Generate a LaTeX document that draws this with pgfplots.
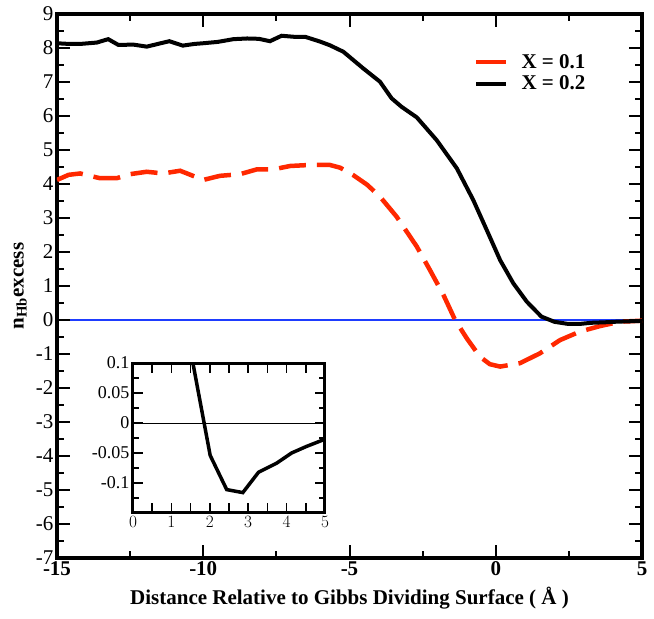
\documentclass[border=0pt]{standalone}
\usepackage{fontspec}
\setmainfont{Liberation Serif}
\usepackage{pgfplots}
\pgfplotsset{compat=1.18}
\definecolor{gred}{RGB}{255,40,0}
\definecolor{gblue}{RGB}{30,60,255}
\pgfplotsset{tk/.style={black, line width=2pt, forget plot, mark=none},
         tki/.style={black, line width=1.6pt, forget plot, mark=none}}
\begin{document}
\begin{tikzpicture}
\path[use as bounding box] (-57pt,-61pt) rectangle (597pt,558pt);
\begin{axis}[
  name=main,
  at={(0pt,0pt)}, anchor=south west,
  scale only axis, width=585pt, height=544pt,
  xmin=-15, xmax=5, ymin=-7, ymax=9,
  xtick={-15,-10,-5,0,5},
  ytick={-7,-6,...,9},
  major tick length=0pt, minor tick length=0pt,
  axis line style={line width=3.5pt},
  /pgf/number format/assume math mode=true,
  xticklabel style={font=\fontsize{21}{24}\selectfont\bfseries},
  yticklabel style={font=\fontsize{21}{24}\selectfont},
  xlabel={Distance Relative to Gibbs Dividing Surface ( Å )},
  xlabel style={font=\fontsize{21}{24}\selectfont\bfseries, at={(axis description cs:0.5,-0.053)}, anchor=north, inner sep=0pt},
  ylabel={n\textsubscript{Hb}excess},
  every axis y label/.style={font=\fontsize{21}{24}\selectfont\bfseries, at={(axis description cs:-0.0513,0.5)}, rotate=90, anchor=south, inner sep=0pt},
  legend style={draw=none, fill=none, at={(axis cs:-0.75,7.85)}, anchor=north west, inner sep=0pt,
    font=\fontsize{21}{24}\selectfont\bfseries, row sep=4pt, column sep=12pt,
    nodes={inner sep=1pt}},
  legend cell align=left,
  legend image code/.code={\draw[#1,solid] (0pt,0pt) -- (30pt,0pt);},
]
\addplot[gblue, line width=1.2pt, forget plot] coordinates {(-15,0) (5,0)};
\addplot[gred, line width=4.5pt, dash pattern=on 27pt off 11pt] coordinates {
(-15,4.12) (-14.6,4.27) (-14.21,4.31) (-13.53,4.17) (-12.96,4.17) (-12.5,4.29)
(-11.93,4.36) (-11.37,4.31) (-10.79,4.39) (-10.0,4.12) (-9.43,4.24) (-8.74,4.29)
(-8.17,4.43) (-7.6,4.43) (-7.03,4.53) (-6.35,4.56) (-5.67,4.56) (-5.32,4.48)
(-4.87,4.26) (-4.4,3.98) (-3.96,3.63) (-3.39,3.04) (-2.70,2.16) (-2.25,1.47)
(-1.79,0.74) (-1.39,0.0) (-0.99,-0.54) (-0.54,-1.08) (-0.2,-1.30) (0.15,-1.37)
(0.83,-1.27) (1.51,-0.98) (2.2,-0.59) (2.88,-0.34) (3.56,-0.18) (4.25,-0.05) (5.0,-0.02)};
\addlegendentry{X = 0.1}
\addplot[black, line width=4pt] coordinates {
(-15,8.14) (-14.6,8.12) (-14.2,8.12) (-13.64,8.16) (-13.25,8.26) (-12.9,8.09)
(-12.39,8.1) (-11.93,8.04) (-11.55,8.12) (-11.16,8.2) (-10.7,8.07) (-10.3,8.12)
(-10,8.14) (-9.5,8.18) (-8.97,8.26) (-8.5,8.28) (-8.1,8.27) (-7.72,8.2)
(-7.32,8.36) (-6.9,8.33) (-6.52,8.33) (-6.01,8.19) (-5.67,8.08) (-5.21,7.89)
(-4.53,7.4) (-3.96,7.01) (-3.56,6.52) (-3.22,6.27) (-2.70,5.96) (-2.02,5.29)
(-1.33,4.46) (-0.77,3.53) (-0.31,2.65) (0.15,1.76) (0.6,1.08) (1.06,0.54)
(1.56,0.1) (2.01,-0.054) (2.44,-0.111) (2.86,-0.116) (3.27,-0.082) (3.74,-0.067)
(4.13,-0.05) (4.52,-0.039) (5.0,-0.027)};
\addlegendentry{X = 0.2}
% inside tick marks
\pgfplotsinvokeforeach{-10,-5,0}{
  \addplot[tk] coordinates {(#1,-7) (#1,-6.62)};
  \addplot[tk] coordinates {(#1,9) (#1,8.62)};}
\pgfplotsinvokeforeach{-12.5,-7.5,-2.5,2.5}{
  \addplot[tk] coordinates {(#1,-7) (#1,-6.79)};
  \addplot[tk] coordinates {(#1,9) (#1,8.79)};}
\pgfplotsinvokeforeach{-6,-5,-4,-3,-2,-1,0,1,2,3,4,5,6,7,8}{
  \addplot[tk] coordinates {(-15,#1) (-14.56,#1)};
  \addplot[tk] coordinates {(5,#1) (4.56,#1)};}
\pgfplotsinvokeforeach{-6.5,-5.5,-4.5,-3.5,-2.5,-1.5,-0.5,0.5,1.5,2.5,3.5,4.5,5.5,6.5,7.5,8.5}{
  \addplot[tk] coordinates {(-15,#1) (-14.76,#1)};
  \addplot[tk] coordinates {(5,#1) (4.76,#1)};}
\end{axis}
\begin{axis}[
  at={(76pt,45pt)}, anchor=south west,
  scale only axis, width=192pt, height=150pt,
  xmin=0, xmax=5, ymin=-0.15, ymax=0.1,
  xtick={0,1,2,3,4,5},
  ytick={-0.1,-0.05,0,0.05,0.1},
  yticklabels={-0.1,-0.05,0,0.05,0.1},
  major tick length=0pt, minor tick length=0pt,
  axis line style={line width=3pt},
  xticklabel style={font=\fontsize{17}{20}\selectfont\bfseries},
  yticklabel style={font=\fontsize{18}{21}\selectfont},
  axis background/.style={fill=white},
]
\addplot[black, line width=0.8pt, forget plot] coordinates {(0,0) (5,0)};
\addplot[black, line width=3.5pt, forget plot] coordinates {
(1.06,0.54) (1.56,0.1) (2.01,-0.054) (2.44,-0.111) (2.86,-0.116) (3.27,-0.082) (3.74,-0.067)
(4.13,-0.05) (4.52,-0.039) (5.0,-0.027)};
\pgfplotsinvokeforeach{0.5,1,1.5,2,2.5,3,3.5,4,4.5}{
  \addplot[tki] coordinates {(#1,-0.15) (#1,-0.134)};
  \addplot[tki] coordinates {(#1,0.1) (#1,0.084)};}
\pgfplotsinvokeforeach{-0.1,-0.05,0,0.05}{
  \addplot[tki] coordinates {(0,#1) (0.26,#1)};
  \addplot[tki] coordinates {(5,#1) (4.74,#1)};}
\pgfplotsinvokeforeach{-0.125,-0.075,-0.025,0.025,0.075}{
  \addplot[tki] coordinates {(0,#1) (0.16,#1)};
  \addplot[tki] coordinates {(5,#1) (4.84,#1)};}
\end{axis}
\end{tikzpicture}
\end{document}
